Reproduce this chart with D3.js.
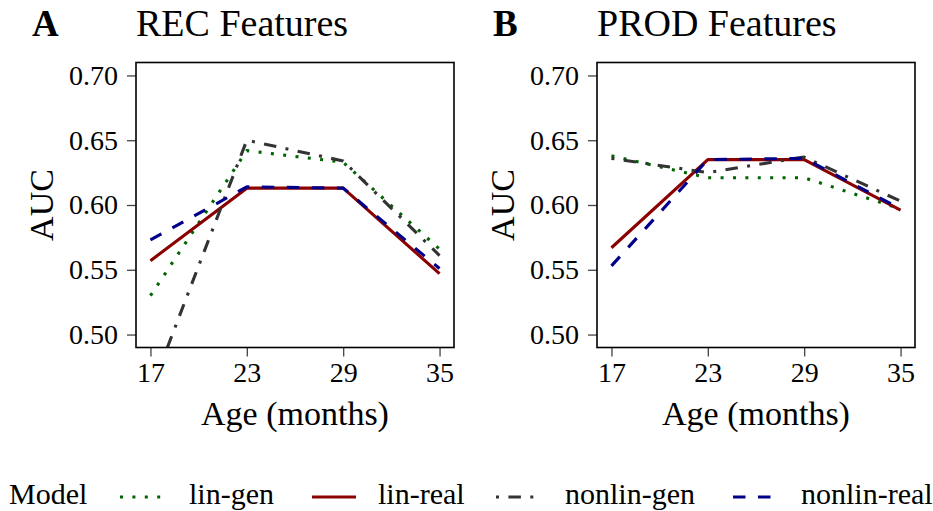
<!DOCTYPE html>
<html><head><meta charset="utf-8">
<script src="https://cdn.jsdelivr.net/npm/d3@7"></script>
<style>body{margin:0;background:#fff}svg{display:block}text{font-family:"Liberation Serif",serif;fill:#000}</style>
</head><body><svg id="c" width="933" height="511"></svg>
<script>
const ages = [17, 23, 29, 35];
const yTicks = [0.50, 0.55, 0.60, 0.65, 0.70];
const models = ["lin-gen", "lin-real", "nonlin-gen", "nonlin-real"];
const panelLetters = ["A", "B"];
const panelTitles = ["REC Features", "PROD Features"];
// Panel A: REC features
const recLinGen     = [0.530, 0.642, 0.633, 0.566];
const recLinReal    = [0.557, 0.613, 0.613, 0.547];
const recNonlinGen  = [0.456, 0.650, 0.634, 0.561];
const recNonlinReal = [0.573, 0.614, 0.613, 0.551];
// Panel B: PROD features
const prodLinGen     = [0.638, 0.621, 0.621, 0.597];
const prodLinReal    = [0.567, 0.635, 0.635, 0.596];
const prodNonlinGen  = [0.636, 0.625, 0.637, 0.603];
const prodNonlinReal = [0.553, 0.635, 0.636, 0.597];

const colors = {"lin-gen":"#006400","lin-real":"#8B0000","nonlin-gen":"#333333","nonlin-real":"#00008B"};
const dashes = {"lin-gen":"3,9.4","lin-real":null,"nonlin-gen":"3,9.4,12.5,9.4","nonlin-real":"12.5,12.5"};
const lw = 3.1;

const panels = [
  {series:[recLinGen, recLinReal, recNonlinGen, recNonlinReal], left:136, right:454},
  {series:[prodLinGen, prodLinReal, prodNonlinGen, prodNonlinReal], left:597, right:915}
];
const pTop = 62.5, pBottom = 347.5;
const svg = d3.select("#c");

panels.forEach((p, i) => {
  const x = d3.scaleLinear().domain([17 - 0.9, 35 + 0.9]).range([p.left, p.right]);
  const y = d3.scaleLinear().domain([0.49, 0.71]).range([pBottom, pTop]);
  const g = svg.append("g");
  const cid = "clip" + i;
  svg.append("clipPath").attr("id", cid).append("rect")
    .attr("x", p.left).attr("y", pTop).attr("width", p.right - p.left).attr("height", pBottom - pTop);

  const ya = g.append("g").attr("transform", `translate(${p.left},0)`)
    .call(d3.axisLeft(y).tickValues(yTicks).tickFormat(d3.format(".2f")).tickSize(9).tickPadding(9));
  const xa = g.append("g").attr("transform", `translate(0,${pBottom})`)
    .call(d3.axisBottom(x).tickValues(ages).tickSize(9).tickPadding(6));
  [ya, xa].forEach(a => {
    a.select(".domain").remove();
    a.selectAll(".tick line").attr("stroke", "#444").attr("stroke-width", 1.3);
    a.selectAll(".tick text").style("font-family", '"Liberation Serif",serif').style("font-size", "28px").attr("fill", "#000");
  });

  const line = d3.line().x((d, j) => x(ages[j])).y(d => y(d));
  const lg = g.append("g").attr("clip-path", `url(#${cid})`);
  models.forEach((m, k) => {
    lg.append("path").datum(p.series[k]).attr("d", line).attr("fill", "none")
      .attr("stroke", colors[m]).attr("stroke-width", lw)
      .attr("stroke-dasharray", dashes[m]).attr("stroke-linejoin", "round");
  });

  g.append("rect").attr("x", p.left).attr("y", pTop).attr("width", p.right - p.left).attr("height", pBottom - pTop)
    .attr("fill", "none").attr("stroke", "#000").attr("stroke-width", 1.6);

  g.append("text").attr("x", p.left - 104).attr("y", 36).style("font-size", "37px").style("font-weight", "bold").text(panelLetters[i]);
  g.append("text").attr("x", p.left).attr("y", 36).style("font-size", "38px").text(panelTitles[i]);
  g.append("text").attr("x", (p.left + p.right) / 2).attr("y", 425).attr("text-anchor", "middle").style("font-size", "34px").text("Age (months)");
  g.append("text").attr("transform", `translate(${p.left - 95},${(pTop + pBottom) / 2}) rotate(-90)`)
    .attr("text-anchor", "middle").attr("dy", "0.35em").style("font-size", "34px").text("AUC");
});

const leg = svg.append("g");
const legY = 497;
const legBase = 504;
leg.append("text").attr("x", 9).attr("y", legBase).style("font-size", "30px").text("Model");
const keyX = [120, 312, 496, 733];
const labX = [189, 378, 565, 801];
models.forEach((m, k) => {
  leg.append("line").attr("x1", keyX[k]).attr("x2", keyX[k] + 44).attr("y1", legY).attr("y2", legY)
    .attr("stroke", colors[m]).attr("stroke-width", lw).attr("stroke-dasharray", dashes[m]);
  leg.append("text").attr("x", labX[k]).attr("y", legBase).style("font-size", "30px").text(m);
});
</script></body></html>
